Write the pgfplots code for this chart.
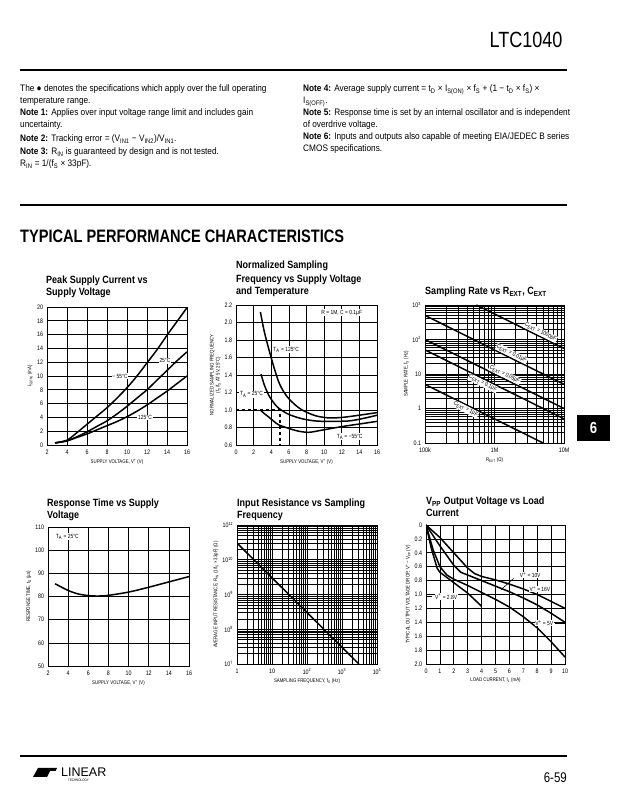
\documentclass[border=0pt]{standalone}
\usepackage{fontspec}
\setmainfont{Liberation Sans}[FakeStretch=0.82]
\newfontfamily\headfont{Liberation Sans}[FakeStretch=0.81]
\newfontfamily\notefont{Liberation Sans}[FakeStretch=0.88]
\newfontfamily\titlefont{Liberation Sans}[FakeStretch=0.86]
\newfontfamily\plainfont{Liberation Sans}
\usepackage{pgfplots}
\pgfplotsset{compat=1.18}
\newcommand\sub[1]{\textsubscript{#1}}
\newcommand\sps[1]{\textsuperscript{#1}}

\pgfplotsset{
  sheet/.style={
    scale only axis, anchor=south west,
    axis line style={line width=0.9pt},
    grid=major,
    major grid style={line width=0.65pt, black},
    minor grid style={line width=0.45pt, black},
    tick style={draw=none},
    ticklabel style={font=\fontsize{6.5}{7}\selectfont},
    label style={font=\fontsize{5.3}{6}\selectfont},
    /pgf/number format/assume math mode=true,
    xticklabel style={yshift=-1pt},
    yticklabel style={xshift=-0.5pt},
    xlabel style={yshift=2pt},
    ylabel style={yshift=-3pt},
  },
  crv/.style={black, line width=1.5pt, no markers},
}
\tikzset{lbl/.style={fill=white, inner sep=0.7pt, font=\fontsize{6}{7}\selectfont}}

\begin{document}
\begin{tikzpicture}[x=1pt, y=1pt]
\useasboundingbox (0,0) rectangle (622,797);

% header
\node[anchor=base east, font=\fontsize{22}{24}\selectfont] at (566,797-48) {LTC1040};
\draw[line width=2.4pt] (20,797-70) -- (567,797-70);

% notes
\begin{scope}[every node/.style={anchor=base west, inner sep=0pt, font=\notefont\fontsize{9.4}{11}\selectfont}]
\node at (20,797-92) {The ● denotes the specifications which apply over the full operating};
\node at (20,797-104) {temperature range.};
\node at (20,797-116) {\textbf{Note 1:} Applies over input voltage range limit and includes gain};
\node at (20,797-128) {uncertainty.};
\node at (20,797-142) {\textbf{Note 2:} Tracking error = (V\sub{IN1} − V\sub{IN2})/V\sub{IN1}.};
\node at (20,797-155) {\textbf{Note 3:} R\sub{IN} is guaranteed by design and is not tested.};
\node at (20,797-167) {R\sub{IN} = 1/(f\sub{S} × 33pF).};
\node at (303,797-92) {\textbf{Note 4:} Average supply current = t\sub{D} × I\sub{S(ON)} × f\sub{S} + (1 − t\sub{D} × f\sub{S}) ×};
\node at (303,797-104) {I\sub{S(OFF)}.};
\node at (303,797-116) {\textbf{Note 5:} Response time is set by an internal oscillator and is independent};
\node at (303,797-128) {of overdrive voltage.};
\node at (303,797-140) {\textbf{Note 6:} Inputs and outputs also capable of meeting EIA/JEDEC B series};
\node at (303,797-152) {CMOS specifications.};
\end{scope}

\draw[line width=2.4pt] (20,797-205) -- (567,797-205);
\node[anchor=base west, inner sep=0pt, font=\headfont\bfseries\fontsize{18}{20}\selectfont] at (20,797-243) {TYPICAL PERFORMANCE CHARACTERISTICS};

% chart titles
\begin{scope}[every node/.style={anchor=base west, inner sep=0pt, font=\titlefont\bfseries\fontsize{10.5}{12}\selectfont}]
\node at (46,797-283.6) {Peak Supply Current vs};
\node at (46,797-295.6) {Supply Voltage};
\node at (236,797-268.6) {Normalized Sampling};
\node at (236,797-282.1) {Frequency vs Supply Voltage};
\node at (236,797-294.6) {and Temperature};
\node at (425,797-294.6) {Sampling Rate vs R\sub{EXT}, C\sub{EXT}};
\node at (47,797-506.6) {Response Time vs Supply};
\node at (47,797-518.6) {Voltage};
\node at (237,797-506.6) {Input Resistance vs Sampling};
\node at (237,797-518.6) {Frequency};
\node at (426,797-504.6) {V\sub{PP} Output Voltage vs Load};
\node at (426,797-516.6) {Current};
\end{scope}

% chart 1: peak supply current
\begin{axis}[sheet, at={(47pt,352pt)}, width=140pt, height=138pt,
  xmin=2, xmax=16, ymin=0, ymax=20,
  xtick={2,4,...,16}, ytick={0,2,...,20},
  xlabel={SUPPLY VOLTAGE, V\sps{+} (V)}, ylabel={I\sub{S(ON)} (mA)}]
\addplot[crv, smooth] coordinates {(2.8,0.3)(4,0.7)(5,1.8)(6,3.0)(7,4.2)(8,5.4)(9,6.8)(10,8.3)(11,10.0)(12,11.9)(13,13.8)(14,15.9)(15,17.9)(16,19.9)};
\addplot[crv, smooth] coordinates {(2.8,0.3)(4,0.6)(5,1.2)(6,1.9)(7,2.7)(8,3.5)(9,4.5)(10,5.6)(11,6.8)(12,8.0)(13,9.4)(14,10.8)(15,12.2)(16,13.5)};
\addplot[crv, smooth] coordinates {(2.8,0.3)(4,0.6)(5,1.1)(6,1.6)(7,2.2)(8,2.8)(9,3.4)(10,4.1)(11,4.9)(12,5.8)(13,6.8)(14,7.8)(15,8.9)(16,10.0)};
\node[lbl] at (axis cs:9.3,10) {− 55°C};
\node[lbl] at (axis cs:13.8,12.2) {25°C};
\node[lbl] at (axis cs:11.8,4.0) {125°C};
\end{axis}

% chart 2: normalized sampling frequency
\begin{axis}[sheet, at={(236pt,352pt)}, width=141pt, height=140pt,
  xmin=0, xmax=16, ymin=0.6, ymax=2.2,
  xtick={0,2,...,16}, ytick={0.6,0.8,1.0,1.2,1.4,1.6,1.8,2.0,2.2},
  yticklabels={0.6,0.8,1.0,1.2,1.4,1.6,1.8,2.0,2.2},
  xlabel={SUPPLY VOLTAGE, V\sps{+} (V)},
  ylabel={NORMALIZED SAMPLING FREQUENCY\\(f\sub{S}/f\sub{S} AT 5V, 25°C)},
  ylabel style={align=center}]
\addplot[crv, smooth] coordinates {(2.77,2.12)(3.2,1.9)(3.71,1.70)(4.3,1.49)(4.85,1.32)(5.4,1.21)(5.98,1.13)(6.7,1.06)(7.5,1.0)(9.0,0.935)(10.5,0.91)(12.0,0.915)(13.6,0.935)(16,0.97)};
\addplot[crv, smooth] coordinates {(2.84,1.41)(3.2,1.29)(3.71,1.17)(4.3,1.08)(4.85,1.02)(5.98,0.95)(7.5,0.9)(9.0,0.875)(10.5,0.87)(12.8,0.875)(14.5,0.905)(16,0.94)};
\addplot[crv, smooth] coordinates {(2.77,1.0)(3.2,0.96)(3.71,0.92)(4.3,0.87)(4.85,0.83)(5.98,0.79)(7.0,0.76)(8.26,0.745)(9.77,0.77)(12,0.81)(14,0.84)(16,0.87)};
\addplot[black, line width=1.4pt, dashed] coordinates {(0,1.0)(5,1.0)(5,0.6)};
\node[lbl] at (axis cs:12,2.11) {R = 1M, C = 0.1µF};
\node[lbl] at (axis cs:5.7,1.69) {T\sub{A} = 125°C};
\node[lbl] at (axis cs:1.75,1.18) {T\sub{A} = 25°C};
\node[lbl] at (axis cs:12.9,0.695) {T\sub{A} = −55°C};
\end{axis}

% chart 3: sampling rate vs Rext, Cext
\begin{axis}[sheet, at={(425pt,354pt)}, width=139pt, height=138pt,
  xmode=log, ymode=log, xmin=1e5, xmax=1e7, ymin=0.1, ymax=1000,
  grid=both,
  xtick={1e5,1e6,1e7}, xticklabels={100k,1M,10M},
  ytick={0.1,1,10,100,1000}, yticklabels={0.1,1,10,10\sps{2},10\sps{3}},
  minor xtick={2e5,3e5,4e5,5e5,6e5,7e5,8e5,9e5,2e6,3e6,4e6,5e6,6e6,7e6,8e6,9e6},
  minor ytick={0.2,0.3,0.4,0.5,0.6,0.7,0.8,0.9,2,3,4,5,6,7,8,9,20,30,40,50,60,70,80,90,200,300,400,500,600,700,800,900},
  xlabel={R\sub{EXT} (Ω)}, ylabel={SAMPLE RATE, f\sub{S} (Hz)}]
\addplot[crv] coordinates {(5.5e5,1000)(1e7,55)} node[pos=0.71, sloped, above, lbl] {C\sub{EXT} = 1000pF};
\addplot[crv] coordinates {(1e5,500)(1e7,5)} node[pos=0.61, sloped, above, lbl] {C\sub{EXT} = 0.01µF};
\addplot[crv] coordinates {(1e5,100)(1e7,1)} node[pos=0.56, sloped, above, lbl] {C\sub{EXT} = 0.05µF};
\addplot[crv] coordinates {(1e5,50)(1e7,0.5)} node[pos=0.43, sloped, below, lbl] {C\sub{EXT} = 0.1µF};
\addplot[crv] coordinates {(1e5,5)(5e6,0.1)} node[pos=0.36, sloped, below, lbl] {C\sub{EXT} = 1µF};
\end{axis}

% chart 4: response time
\begin{axis}[sheet, at={(48pt,131pt)}, width=141pt, height=139pt,
  xmin=2, xmax=16, ymin=50, ymax=110,
  xtick={2,4,...,16}, ytick={50,60,...,110},
  xlabel={SUPPLY VOLTAGE, V\sps{+} (V)}, ylabel={RESPONSE TIME, t\sub{D} (µs)}]
\addplot[crv, smooth] coordinates {(2.7,85.5)(4,82.6)(5,81.1)(6,80.4)(7,80.2)(8,80.5)(10,81.9)(12,84.0)(14,86.3)(16,88.6)};
\node[lbl, anchor=west] at (axis cs:2.7,105.8) {T\sub{A} = 25°C};
\end{axis}

% chart 5: input resistance
\begin{axis}[sheet, at={(237pt,133pt)}, width=140pt, height=139pt,
  xmode=log, ymode=log, xmin=1, xmax=1e4, ymin=1e7, ymax=1e11,
  grid=both,
  xtick={1,10,100,1000,10000}, xticklabels={1,10,10\sps{2},10\sps{3},10\sps{4}},
  ytick={1e7,1e8,1e9,1e10,1e11}, yticklabels={10\sps{7},10\sps{8},10\sps{9},10\sps{10},10\sps{11}},
  minor xtick={2,3,4,5,6,7,8,9,20,30,40,50,60,70,80,90,200,300,400,500,600,700,800,900,2000,3000,4000,5000,6000,7000,8000,9000},
  minor ytick={2e7,3e7,4e7,5e7,6e7,7e7,8e7,9e7,2e8,3e8,4e8,5e8,6e8,7e8,8e8,9e8,2e9,3e9,4e9,5e9,6e9,7e9,8e9,9e9,2e10,3e10,4e10,5e10,6e10,7e10,8e10,9e10},
  xlabel={SAMPLING FREQUENCY, f\sub{S} (Hz)},
  ylabel={AVERAGE INPUT RESISTANCE, R\sub{IN} (1/f\sub{S} × 33pF) (Ω)}]
\addplot[crv] coordinates {(1,3.03e10)(3030,1e7)};
\end{axis}

% chart 6: Vpp output voltage vs load current
\begin{axis}[sheet, at={(426pt,133pt)}, width=139pt, height=139pt,
  xmin=0, xmax=10, ymin=0, ymax=2, y dir=reverse,
  xtick={0,1,...,10}, ytick={0,0.2,0.4,0.6,0.8,1.0,1.2,1.4,1.6,1.8,2.0},
  yticklabels={0,0.2,0.4,0.6,0.8,1.0,1.2,1.4,1.6,1.8,2.0},
  xlabel={LOAD CURRENT, I\sub{L} (mA)},
  ylabel={TYPICAL OUTPUT VOLTAGE DROP, V\sps{+} − V\sub{PP} (V)}]
\addplot[crv] coordinates {(0,0)(1,0.18)(2,0.4)(3,0.62)(3.5,0.7)(4,0.74)(5,0.79)(6,0.85)(7,0.92)(8,1.0)(9,1.1)(10,1.2)};
\addplot[crv] coordinates {(0,0)(1,0.3)(2,0.58)(2.5,0.68)(3,0.72)(4,0.8)(5,0.88)(6,0.96)(7,1.05)(8,1.15)(9,1.27)(10,1.4)};
\addplot[crv] coordinates {(0,0)(0.5,0.35)(1,0.6)(1.5,0.72)(2,0.78)(3,0.87)(4,0.97)(5,1.07)(6,1.18)(7,1.32)(8,1.48)(9,1.68)(10,1.9)};
\addplot[crv] coordinates {(0,0)(0.4,0.35)(0.8,0.62)(1,0.68)(2,0.83)(3,0.98)(4,1.17)};
\addplot[black, line width=0.6pt] coordinates {(6.3,0.77)(5.4,0.93)};
\addplot[black, line width=0.6pt] coordinates {(9.3,1.41)(10,1.41)};
\addplot[black, line width=0.6pt] coordinates {(0,1.03)(0.4,1.03)};
\node[lbl] at (axis cs:7.5,0.72) {V\sps{+} = 10V};
\node[lbl] at (axis cs:8.2,0.92) {V\sps{+} = 16V};
\node[lbl] at (axis cs:8.5,1.41) {V\sps{+} = 5V};
\node[lbl] at (axis cs:1.45,1.03) {V\sps{+} = 2.8V};
\end{axis}

% section tab
\fill[black] (577,797-441) rectangle (610,797-415);
\node[white, font=\bfseries\fontsize{16}{18}\selectfont] at (593.5,797-428) {6};

% footer
\draw[line width=2.4pt] (20,797-756) -- (567,797-756);
\fill[black] (33,797-777) -- (38,797-768) -- (57,797-768) -- (55.5,797-771) -- (49,797-771) -- (45,797-777) -- cycle;
\fill[black] (45,797-777) -- (48,797-771) -- (50,797-771) -- (47,797-777) -- cycle;
\node[anchor=base west, inner sep=0pt, font=\plainfont\fontsize{12.5}{13}\selectfont] at (61,797-776.5) {LINEAR};
\node[anchor=base west, inner sep=0pt, font=\fontsize{3.6}{4}\selectfont] at (68,797-781) {TECHNOLOGY};
\node[anchor=base east, inner sep=0pt, font=\fontsize{14}{16}\selectfont] at (567,797-783) {6-59};
\end{tikzpicture}
\end{document}
